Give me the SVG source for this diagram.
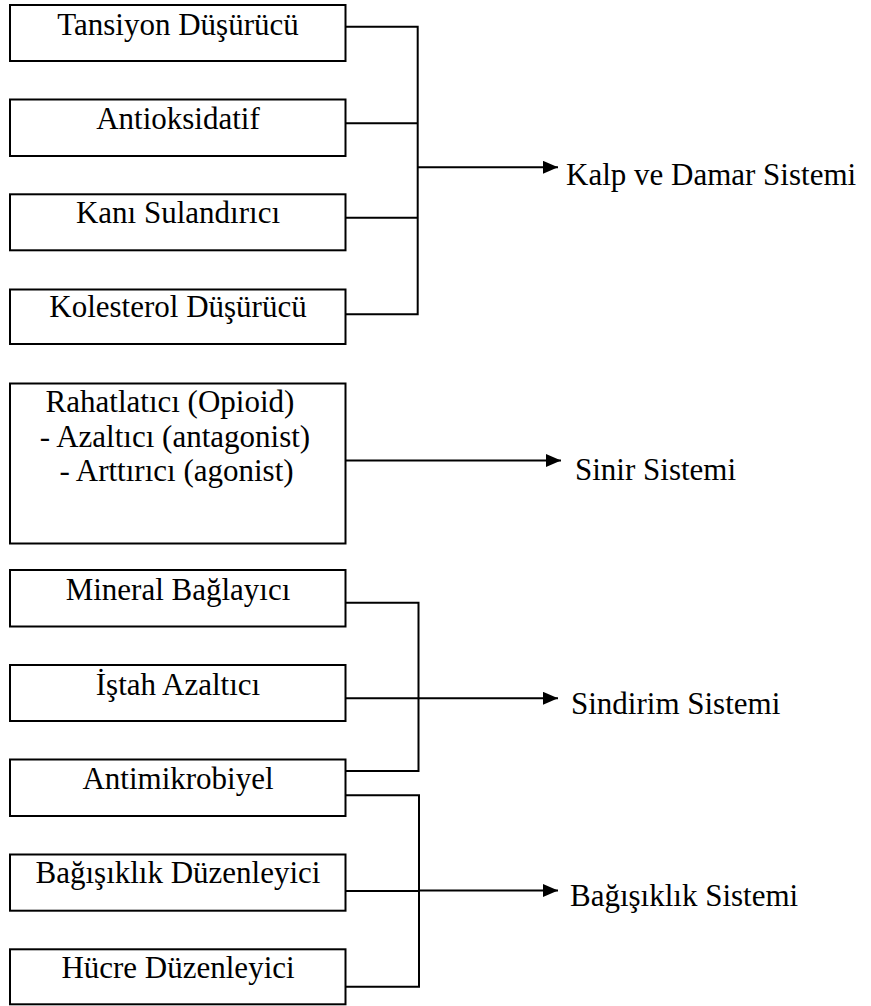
<svg xmlns="http://www.w3.org/2000/svg" width="871" height="1006" viewBox="0 0 871 1006">
<style>
.box{fill:#fff;stroke:#000;stroke-width:2}
.t{font-family:"Liberation Serif","Times New Roman",serif;font-size:31px;fill:#000}
.c{text-anchor:middle}
.ln{fill:none;stroke:#000;stroke-width:2}
</style>
<defs>
<marker id="ah" markerUnits="userSpaceOnUse" markerWidth="16" markerHeight="14" refX="15" refY="6.5" orient="auto">
<path d="M0,0 L15,6.5 L0,13 z" fill="#000"/>
</marker>
</defs>
<rect width="871" height="1006" fill="#fff"/>
<g id="n-tansiyon"><rect class="box" x="10" y="5" width="335.5" height="56"/><text class="t c" x="178" y="35">Tansiyon Düşürücü</text></g>
<g id="n-antioksidatif"><rect class="box" x="10" y="99.5" width="335.5" height="56.5"/><text class="t c" x="178" y="128.5">Antioksidatif</text></g>
<g id="n-kani"><rect class="box" x="10" y="194.3" width="335.5" height="56"/><text class="t c" x="178" y="223.3">Kanı Sulandırıcı</text></g>
<g id="n-kolesterol"><rect class="box" x="10" y="289.5" width="335.5" height="54.5"/><text class="t c" x="178" y="317">Kolesterol Düşürücü</text></g>
<g id="n-rahatlatici"><rect class="box" x="10" y="383.5" width="335.5" height="160"/>
<text class="t c" x="170" y="412">Rahatlatıcı (Opioid)</text>
<text class="t c" x="175" y="447">- Azaltıcı (antagonist)</text>
<text class="t c" x="176.5" y="481">- Arttırıcı (agonist)</text></g>
<g id="n-mineral"><rect class="box" x="10" y="570" width="335.5" height="56.5"/><text class="t c" x="178" y="599.5">Mineral Bağlayıcı</text></g>
<g id="n-istah"><rect class="box" x="10" y="665" width="335.5" height="56"/><text class="t c" x="178" y="695">İştah Azaltıcı</text></g>
<g id="n-antimikrobiyel"><rect class="box" x="10" y="759.5" width="335.5" height="56.5"/><text class="t c" x="178" y="789.3">Antimikrobiyel</text></g>
<g id="n-bagisiklik"><rect class="box" x="10" y="854.5" width="335.5" height="56.2"/><text class="t c" x="178" y="883.3">Bağışıklık Düzenleyici</text></g>
<g id="n-hucre"><rect class="box" x="10" y="949.3" width="335.5" height="55"/><text class="t c" x="178" y="978">Hücre Düzenleyici</text></g>
<g id="connectors">
<path class="ln" d="M345.5,26.7 H417.7 V314.3 H345.5 M345.5,123.3 H417.7 M345.5,217.7 H417.7"/>
<line class="ln" x1="417.7" y1="167.3" x2="558" y2="167.3" marker-end="url(#ah)"/>
<line class="ln" x1="345.5" y1="460.5" x2="561" y2="460.5" marker-end="url(#ah)"/>
<path class="ln" d="M345.5,602.7 H418.5 V771 H345.5 M345.5,698.3 H418.5"/>
<line class="ln" x1="418.5" y1="698.3" x2="558" y2="698.3" marker-end="url(#ah)"/>
<path class="ln" d="M345.5,795.3 H419 V986.7 H345.5 M345.5,891 H419"/>
<line class="ln" x1="419" y1="890.5" x2="558" y2="890.5" marker-end="url(#ah)"/>
</g>
<g id="labels">
<text class="t" x="566" y="185">Kalp ve Damar Sistemi</text>
<text class="t" x="575" y="480">Sinir Sistemi</text>
<text class="t" x="571" y="714">Sindirim Sistemi</text>
<text class="t" x="570" y="906">Bağışıklık Sistemi</text>
</g>
</svg>
